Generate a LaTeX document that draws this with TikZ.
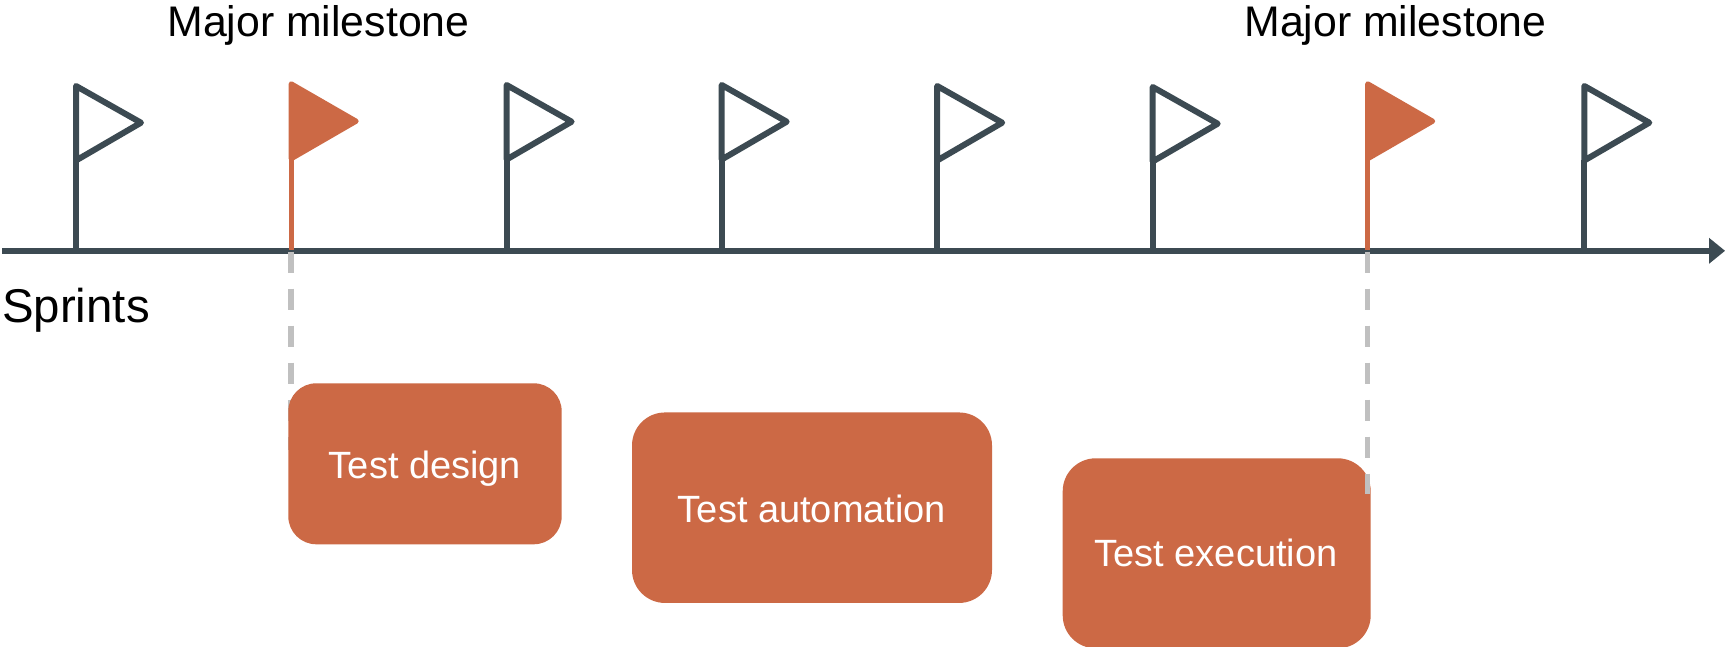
\documentclass[tikz,border=0pt]{standalone}
\usepackage{fontspec}
\setmainfont{Liberation Sans}
\definecolor{flagdark}{HTML}{3C4A52}
\definecolor{rust}{HTML}{CC6945}
\definecolor{dashgray}{HTML}{C0C0C0}
\tikzset{
  axisline/.style={draw=flagdark,line width=6pt},
  flagline/.style={draw=flagdark,line width=6pt,line join=round,line cap=round},
  poleline/.style={draw=flagdark,line width=6pt},
  rustpole/.style={draw=rust,line width=5pt},
  rustflag/.style={fill=rust,draw=rust,line width=5pt,line join=round},
  dashline/.style={draw=dashgray,line width=5.5pt,dash pattern=on 21pt off 16pt},
  taskbox/.style={fill=rust,draw=none,inner sep=0pt},
  bigtext/.style={font=\fontsize{42.8}{42.8}\selectfont,text=black,inner sep=0pt},
  sprinttext/.style={font=\fontsize{47.4}{47.4}\selectfont,text=black,inner sep=0pt},
  tasklabel/.style={text=white,font=\fontsize{38}{38}\selectfont,inner sep=0pt,anchor=base}
}
\begin{document}
\begin{tikzpicture}[x=1pt,y=-1pt]
\useasboundingbox (0,0) rectangle (1725,647);
\fill[white] (0,0) rectangle (1725,647);
\coordinate (axisL) at (2,250.8);
\coordinate (axisR) at (1710,250.8);
\coordinate (ms1base) at (291.2,251.7);
\coordinate (ms2base) at (1367.7,251.7);
\coordinate (ms1end) at (291.2,450);
\coordinate (ms2end) at (1367.7,494);
% axis
\draw[axisline] (axisL) -- (axisR);
\fill[flagdark] (1709,237.8) -- (1725,250.8) -- (1709,263.8) -- cycle;
% plain flags
\foreach \fx/\fd in {76/0,506.6/-1,721.7/-1,937.2/0,1152.7/1,1584.3/0}{
  \draw[poleline] (\fx,160+\fd) -- (\fx,250);
  \draw[flagline] (\fx,160.5+\fd) -- (\fx,86+\fd) -- (\fx+65,122.7+\fd) -- cycle;
}
% milestone flags
\foreach \fx in {291.2,1367.7}{
  \draw[rustpole] (\fx,155) -- (\fx,250.5);
  \draw[rustflag] (\fx,83.8) -- (\fx+65,121.2) -- (\fx,158.8) -- cycle;
}
% third box lies under the dashes
\node[taskbox,rounded corners=33pt,minimum width=308pt,minimum height=190pt] (exec) at (1216.7,553.3) {};
% dashes
\draw[dashline] (ms1base) -- (ms1end);
\draw[dashline] (ms2base) -- (ms2end);
% other boxes
\node[taskbox,rounded corners=28pt,minimum width=273.4pt,minimum height=161pt] (design) at (425,463.8) {};
\node[taskbox,rounded corners=33pt,minimum width=360pt,minimum height=190.5pt] (auto) at (812,507.7) {};
\node[tasklabel] at (425,478.5) {Test design};
\node[tasklabel] at (812,522) {Test automation};
\node[tasklabel] at (1216,566.5) {Test execution};
\node[bigtext,anchor=base] (m1) at (318.5,36.5) {Major milestone};
\node[bigtext,anchor=base] (m2) at (1395.5,36.5) {Major milestone};
\node[sprinttext,anchor=base west] (sprints) at (2,322.5) {Sprints};
\end{tikzpicture}
\end{document}
